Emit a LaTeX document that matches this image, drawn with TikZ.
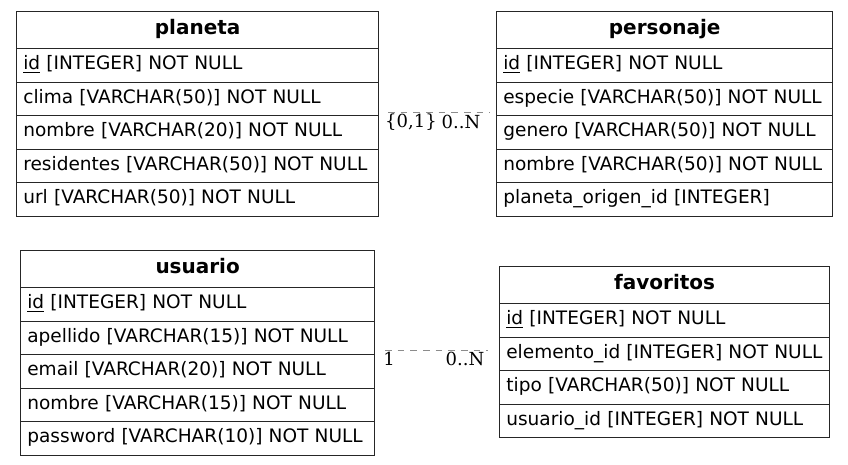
\documentclass[tikz,border=0pt]{standalone}
\usepackage{fontspec}
\setmainfont{DejaVu Sans}
\newfontfamily\lblfont{DejaVu Serif}
\begin{document}
\tikzset{
  hdr/.style={draw=black!85, line width=1pt, anchor=north west, minimum height=27.75pt, inner sep=0pt, text height=11.4pt, text depth=4.6pt, font=\bfseries\fontsize{15pt}{17pt}\selectfont},
  rowc/.style={draw=black!85, line width=1pt, anchor=north west, minimum height=25.125pt, inner xsep=5pt, inner ysep=0pt, text height=10.6pt, text depth=4pt, align=left, font=\fontsize{13.9pt}{16pt}\selectfont},
  rel/.style={draw=black!45, line width=0.8pt, dash pattern=on 5pt off 4.5pt},
  card/.style={font=\lblfont\fontsize{13.5pt}{15pt}\selectfont, inner sep=0pt}
}
\newcommand\ertable[6]{%
  \pgfmathsetlengthmacro\tw{#4*0.75pt-10pt}%
  \pgfmathsetlengthmacro\mw{#4*0.75pt}%
  \node[hdr, minimum width=\mw] (#1) at (#2,#3) {#5};
  \foreach \r [count=\i] in {#6} {
    \node[rowc, text width=\tw] (#1-\i) at (#2, {#3+37+33.5*(\i-1)}) {\r};
  }
}
\begin{tikzpicture}[x=0.75pt,y=-0.75pt]
\useasboundingbox (0,0) rectangle (848,464);
\ertable{planeta}{16}{11}{362}{planeta}{\underline{id} [INTEGER] NOT NULL, clima [VARCHAR(50)] NOT NULL, nombre [VARCHAR(20)] NOT NULL, residentes [VARCHAR(50)] NOT NULL, url [VARCHAR(50)] NOT NULL}
\ertable{personaje}{496}{11}{336}{personaje}{\underline{id} [INTEGER] NOT NULL, especie [VARCHAR(50)] NOT NULL, genero [VARCHAR(50)] NOT NULL, nombre [VARCHAR(50)] NOT NULL, planeta\_origen\_id [INTEGER]}
\ertable{usuario}{20}{250}{354}{usuario}{\underline{id} [INTEGER] NOT NULL, apellido [VARCHAR(15)] NOT NULL, email [VARCHAR(20)] NOT NULL, nombre [VARCHAR(15)] NOT NULL, password [VARCHAR(10)] NOT NULL}
\ertable{favoritos}{499}{266}{330}{favoritos}{\underline{id} [INTEGER] NOT NULL, elemento\_id [INTEGER] NOT NULL, tipo [VARCHAR(50)] NOT NULL, usuario\_id [INTEGER] NOT NULL}
\coordinate (r1a) at (388,112.5);
\coordinate (r1b) at (490,112.5);
\draw[rel] (r1a) -- (r1b);
\node[card] (c1a) at (411,122) {\{0,1\}};
\node[card] (c1b) at (461,122) {0..N};
\coordinate (r2a) at (385,350.5);
\coordinate (r2b) at (488,350.5);
\draw[rel] (r2a) -- (r2b);
\node[card] (c2a) at (389,358.5) {1};
\node[card] (c2b) at (465,358.5) {0..N};
\end{tikzpicture}
\end{document}
